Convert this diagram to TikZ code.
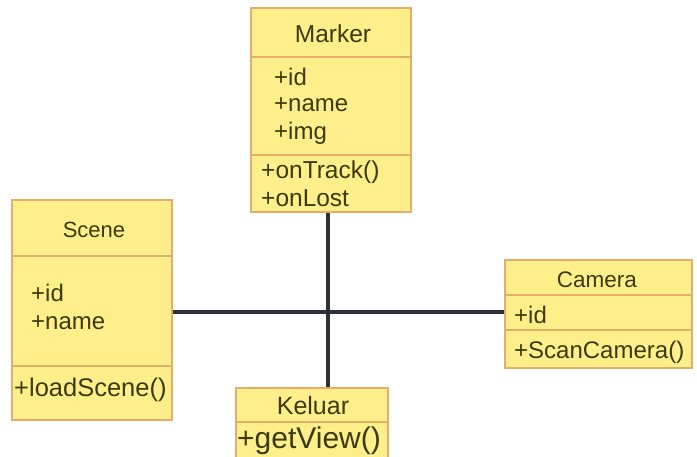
\documentclass[tikz,border=0pt]{standalone}
\usepackage{fontspec}
\newfontfamily\umlfont{Liberation Sans}
\definecolor{boxfill}{HTML}{FFEF8A}
\definecolor{boxline}{HTML}{E2AE6A}
\definecolor{umltext}{HTML}{3C3A0C}
\definecolor{linkcol}{HTML}{303038}
\tikzset{
  umlbox/.style={draw=boxline, fill=boxfill, line width=1.2pt, inner sep=0pt},
  divider/.style={draw=boxline, line width=1.2pt},
  link/.style={draw=linkcol, line width=3.5pt},
  txt/.style={inner sep=0pt, text=umltext, font=\umlfont},
  ttl/.style={txt, font=\umlfont\fontsize{#1}{26}\selectfont},
  attr/.style={txt, anchor=west, font=\umlfont\fontsize{24}{28}\selectfont},
  meth/.style={txt, anchor=west, font=\umlfont\fontsize{#1}{28}\selectfont},
}
\begin{document}
\begin{tikzpicture}[x=1pt,y=-1pt]
\useasboundingbox (0,0) rectangle (697,457);
% boxes
\node[umlbox, minimum width=160pt, minimum height=204pt] (marker) at (331,110) {};
\node[umlbox, minimum width=160pt, minimum height=220pt] (scene) at (92,310) {};
\node[umlbox, minimum width=187pt, minimum height=108pt] (camera) at (598.5,314) {};
\node[umlbox, minimum width=152pt, minimum height=80pt] (keluar) at (312,428) {};
% dividers
\draw[divider] (marker.west |- 0,57) -- (marker.east |- 0,57);
\draw[divider] (marker.west |- 0,155) -- (marker.east |- 0,155);
\draw[divider] (scene.west |- 0,256) -- (scene.east |- 0,256);
\draw[divider] (scene.west |- 0,366) -- (scene.east |- 0,366);
\draw[divider] (camera.west |- 0,295) -- (camera.east |- 0,295);
\draw[divider] (camera.west |- 0,330) -- (camera.east |- 0,330);
\draw[divider] (keluar.west |- 0,422) -- (keluar.east |- 0,422);
% Marker texts
\node[ttl=24.5] (mt) at (333,34) {Marker};
\node[attr] (ma1) at (274,77) {+id};
\node[attr] (ma2) at (274,105) {+name};
\node[attr] (ma3) at (274,133) {+img};
\node[meth=24.5] (mm1) at (261,172) {+onTrack()};
\node[meth=24.5] (mm2) at (261,198) {+onLost};
% Scene texts
\node[ttl=22] (st) at (94,230) {Scene};
\node[attr] (sa1) at (31,293) {+id};
\node[attr] (sa2) at (31,323) {+name};
\node[meth=25.5] (sm1) at (14,390) {+loadScene()};
% Camera texts
\node[ttl=22.5] (ct) at (597,280) {Camera};
\node[attr] (ca1) at (514,315) {+id};
\node[meth=24] (cm1) at (514,352) {+ScanCamera()};
% Keluar texts
\node[ttl=25] (kt) at (313,406) {Keluar};
\node[meth=30] (km1) at (237,441) {+getView()};
% connectors
\coordinate (vx) at (328,0);
\coordinate (hy) at (0,312);
\draw[link] (marker.south -| vx) -- (keluar.north -| vx);
\draw[link] (scene.east |- hy) -- (camera.west |- hy);
\end{tikzpicture}
\end{document}
